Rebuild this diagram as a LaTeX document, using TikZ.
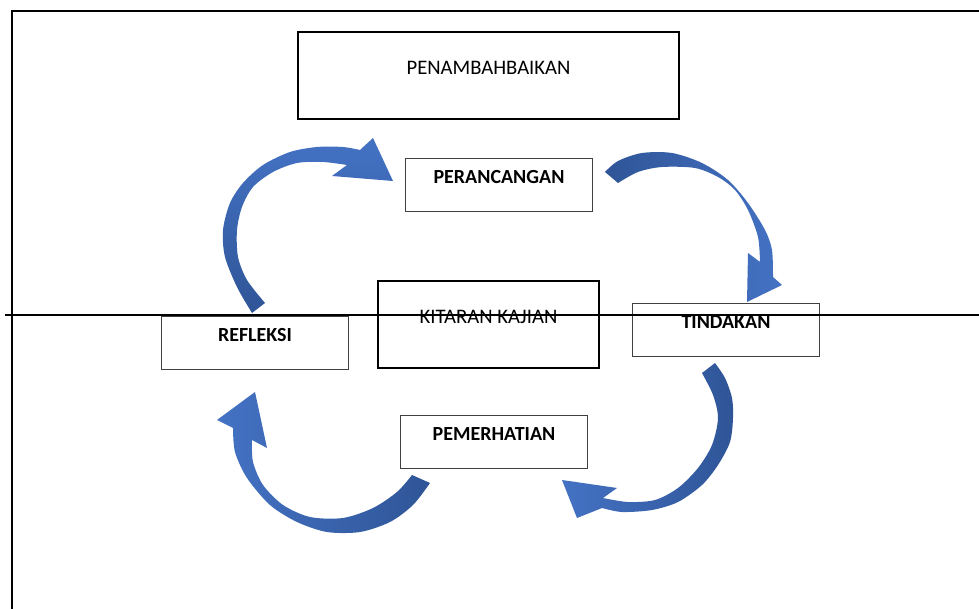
\documentclass[tikz,border=0pt]{standalone}
\usepackage{fontspec}
\setmainfont{Carlito}

\definecolor{cycdark}{HTML}{2F5597}
\definecolor{cyclight}{HTML}{4472C4}
\tikzset{
	thinbox/.style={draw=black!75, line width=0.75pt, inner sep=0pt, anchor=north west, minimum width=140.25pt, text height=18.75pt, text depth=21pt, font=\fontsize{15}{18}\selectfont\bfseries},
	thickbox/.style={draw, line width=1.5pt, inner sep=0pt, anchor=north west, text height=32.25pt, text depth=33pt, font=\fontsize{15.5}{18}\selectfont},
	frame/.style={line width=1.5pt}
}

\begin{document}
\begin{tikzpicture}[x=0.75pt,y=-0.75pt]
	\useasboundingbox (0,0) rectangle (979,609);
	\draw[frame] (12,609) -- (12,11) -- (979,11);
	\node[thickbox, minimum width=285.75pt] (pen) at (297,31) {PENAMBAHBAIKAN};
	\node[thickbox, minimum width=165.75pt] (kit) at (377,280) {KITARAN KAJIAN};
	\node[thinbox] (per) at (405,158) {PERANCANGAN};
	\node[thinbox] (tin) at (632,303) {TINDAKAN};
	\node[thinbox] (pem) at (400,415) {PEMERHATIAN};
	\node[thinbox] (ref) at (161,316) {REFLEKSI};
	% refleksi -> perancangan
	\shade[top color=cyclight, bottom color=cycdark] plot[smooth] coordinates {(252,313) (237,287) (225,257) (223,230) (230,203) (243,183) (263,165) (290,152) (317,147) (343,147) (360,150)} -- (373,138) -- (393,181) -- (332,176) -- plot[smooth] coordinates {(347,165) (323,162) (297,163) (273,172) (253,187) (242,207) (237,230) (238,257) (247,280) (265,303)} -- cycle;
	% perancangan -> tindakan
	\shade[left color=cycdark, right color=cyclight] plot[smooth] coordinates {(605,172) (618,161) (642,153) (672,153) (702,163) (728,180) (748,203) (765,230) (772,250) (773,277)} -- (782,285) -- (747,302) -- (748,253) -- plot[smooth] coordinates {(760,262) (758,237) (748,210) (735,190) (718,177) (695,168) (662,167) (638,172) (618,183)} -- cycle;
	% tindakan -> pemerhatian
	\shade[left color=cyclight, right color=cycdark] plot[smooth] coordinates {(715,363) (725,378) (732,398) (733,418) (730,442) (718,465) (702,485) (678,502) (652,510) (622,512) (602,508)} -- (577,518) -- (562,480) -- (617,488) -- plot[smooth] coordinates {(603,498) (628,502) (655,500) (678,488) (698,468) (712,445) (718,418) (713,395) (702,373)} -- cycle;
	% pemerhatian -> refleksi
	\shade[left color=cyclight, right color=cycdark] plot[smooth] coordinates {(430,483) (413,505) (390,522) (360,532) (327,532) (297,522) (270,505) (247,478) (235,452) (233,428)} -- (217,420) -- (255,392) -- (267,448) -- plot[smooth] coordinates {(252,440) (253,462) (263,485) (283,505) (310,517) (343,518) (373,508) (397,492) (412,475)} -- cycle;
	\draw[frame] (5,315) -- (979,315);
\end{tikzpicture}
\end{document}
